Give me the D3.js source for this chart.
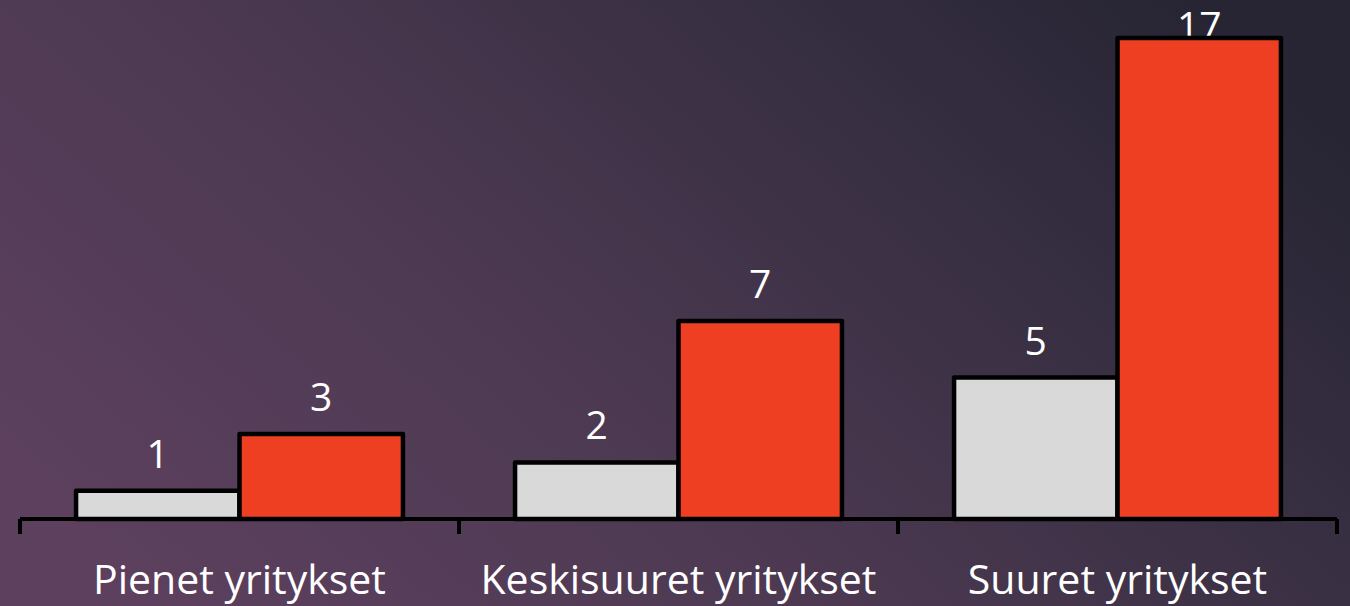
<!DOCTYPE html>
<html>
<head>
<meta charset="utf-8">
<script src="https://cdn.jsdelivr.net/npm/d3@7"></script>
<style>
  html, body { margin: 0; padding: 0; background: #3e3248; }
  svg { display: block; }
</style>
</head>
<body>
<svg width="1350" height="606"></svg>
<script>
const svg = d3.select("svg");
const width = +svg.attr("width");
const height = +svg.attr("height");

// Data
const categories = ["Pienet yritykset", "Keskisuuret yritykset", "Suuret yritykset"];
const seriesNames = ["Sarja 1", "Sarja 2"];
const series1 = [1, 2, 5];
const series2 = [3, 7, 17];
const seriesColors = ["#d9d9d9", "#ee3f23"];

const rows = categories.map((c, i) => ({ category: c, values: [series1[i], series2[i]] }));

// Background gradient
const defs = svg.append("defs");
const grad = defs.append("linearGradient")
  .attr("id", "bg")
  .attr("x1", "0").attr("y1", "0.75")
  .attr("x2", "1").attr("y2", "0.25");
grad.append("stop").attr("offset", "0%").attr("stop-color", "#5c405e");
grad.append("stop").attr("offset", "40%").attr("stop-color", "#4c3951");
grad.append("stop").attr("offset", "75%").attr("stop-color", "#362e41");
grad.append("stop").attr("offset", "100%").attr("stop-color", "#272534");

svg.append("rect")
  .attr("width", width)
  .attr("height", height)
  .attr("fill", "url(#bg)");

// Scales
const x0 = d3.scaleBand()
  .domain(categories)
  .range([20, 1337])
  .padding(0);

const x1 = d3.scaleBand()
  .domain(seriesNames)
  .range([0, x0.bandwidth()])
  .paddingInner(0)
  .paddingOuter(0.343);

const y = d3.scaleLinear()
  .domain([0, 17])
  .range([519, 38]);

const groups = svg.append("g")
  .selectAll("g")
  .data(rows)
  .join("g")
  .attr("transform", d => `translate(${x0(d.category)},0)`);

// Value labels (drawn under the bars, like the original)
groups.selectAll("text.value")
  .data(d => d.values.map((v, i) => ({ v, s: seriesNames[i] })))
  .join("text")
  .attr("class", "value")
  .attr("x", d => x1(d.s) + x1.bandwidth() / 2)
  .attr("y", d => Math.max(y(d.v) - 23, 40))
  .attr("text-anchor", "middle")
  .attr("fill", "#ffffff")
  .attr("font-family", "'Open Sans', sans-serif")
  .attr("font-size", 39)
  .text(d => d.v);

// Bars
groups.selectAll("rect")
  .data(d => d.values.map((v, i) => ({ v, s: seriesNames[i], i })))
  .join("rect")
  .attr("x", d => x1(d.s))
  .attr("y", d => y(d.v))
  .attr("width", x1.bandwidth())
  .attr("height", d => y(0) - y(d.v))
  .attr("fill", d => seriesColors[d.i])
  .attr("stroke", "#000")
  .attr("stroke-width", 4.5)
  .attr("stroke-linejoin", "round");

// Category axis
const axis = svg.append("g");
axis.append("line")
  .attr("x1", x0.range()[0]).attr("x2", x0.range()[1])
  .attr("y1", y(0)).attr("y2", y(0))
  .attr("stroke", "#000")
  .attr("stroke-width", 4);

const tickPos = categories.map(c => x0(c)).concat([x0.range()[1]]);
axis.selectAll("line.tick")
  .data(tickPos)
  .join("line")
  .attr("class", "tick")
  .attr("x1", d => d).attr("x2", d => d)
  .attr("y1", y(0)).attr("y2", y(0) + 15)
  .attr("stroke", "#000")
  .attr("stroke-width", 4);

axis.selectAll("text")
  .data(categories)
  .join("text")
  .attr("x", d => x0(d) + x0.bandwidth() / 2)
  .attr("y", 594)
  .attr("text-anchor", "middle")
  .attr("fill", "#ffffff")
  .attr("font-family", "'Open Sans', sans-serif")
  .attr("font-size", 41)
  .text(d => d);
</script>
</body>
</html>
